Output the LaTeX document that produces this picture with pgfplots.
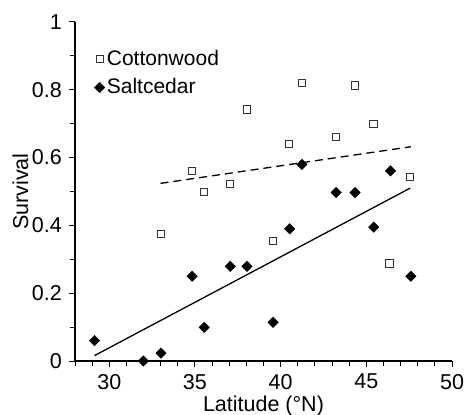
\documentclass[border=0pt]{standalone}
\usepackage{fontspec}
\setmainfont{Liberation Sans}
\usepackage{pgfplots}
\pgfplotsset{compat=1.18}
\begin{document}
\fontsize{21bp}{25bp}\selectfont
\begin{tikzpicture}
\begin{axis}[
  scale only axis,
  width=377bp, height=339bp,
  xmin=28, xmax=50, ymin=0, ymax=1,
  axis x line=bottom, axis y line=left,
  axis line style={line width=1.1pt, -},
  xtick={30,35,40,45,50},
  minor xtick={28,29,31,32,33,34,36,37,38,39,41,42,43,44,46,47,48,49},
  ytick={0,0.2,0.4,0.6,0.8,1},
  yticklabels={0,0.2,0.4,0.6,0.8,1},
  minor ytick={0.1,0.3,0.5,0.7,0.9},
  tick align=outside,
  major tick length=6bp, minor tick length=4.5bp,
  every tick/.style={line width=1pt, black},
  /pgf/number format/assume math mode=true,
  tick label style={font=\fontsize{21.5bp}{25bp}\selectfont},
  xlabel={Latitude (°N)},
  ylabel={Survival},
  label style={font=\fontsize{21.5bp}{25bp}\selectfont},
  xlabel style={at={(axis description cs:0.5,0)}, anchor=center, yshift=-45bp},
  ylabel style={at={(axis description cs:-0.145,0.5)}, anchor=center},
  legend style={draw=none, fill=none, at={(axis description cs:0.051,0.924)}, anchor=north west,
    font=\fontsize{21bp}{25bp}\selectfont, row sep=6bp, inner sep=0pt,
    /tikz/every odd column/.append style={column sep=0bp}},
  legend cell align=left,
  legend image code/.code={\draw[#1] plot coordinates {(0bp,0bp)};},
  clip=false,
]
\addplot[only marks, mark=square*, mark options={fill=white, draw=black!80, line width=0.8pt}, mark size=3.6bp]
coordinates {
(32.99,0.376) (34.84,0.561) (35.50,0.500) (37.02,0.523) (38.02,0.742)
(39.56,0.355) (40.50,0.640) (41.24,0.820) (43.21,0.660) (44.34,0.813)
(45.41,0.700) (46.35,0.288) (47.56,0.542)
};
\addlegendentry{Cottonwood}
\addplot[only marks, mark=square*, mark options={fill=black, draw=black, rotate=45}, mark size=3.7bp]
coordinates {
(29.14,0.060) (31.99,0.000) (33.02,0.023) (34.84,0.250) (35.54,0.099)
(37.06,0.279) (38.04,0.279) (39.56,0.114) (40.53,0.390) (41.24,0.580)
(43.24,0.497) (44.34,0.497) (45.43,0.395) (46.41,0.561) (47.60,0.250)
};
\addlegendentry{Saltcedar}
\addplot[forget plot, black, line width=1.3pt] coordinates {(29.14,0.016) (47.56,0.510)};
\addplot[forget plot, black, line width=1.3pt, dash pattern=on 8bp off 5bp] coordinates {(32.99,0.524) (47.60,0.632)};
\end{axis}
\pgfresetboundingbox
\path (current axis.south west) ++(-75bp,-54bp) coordinate (bbsw);
\path (bbsw) rectangle ++(464bp,415bp);
\end{tikzpicture}
\end{document}
